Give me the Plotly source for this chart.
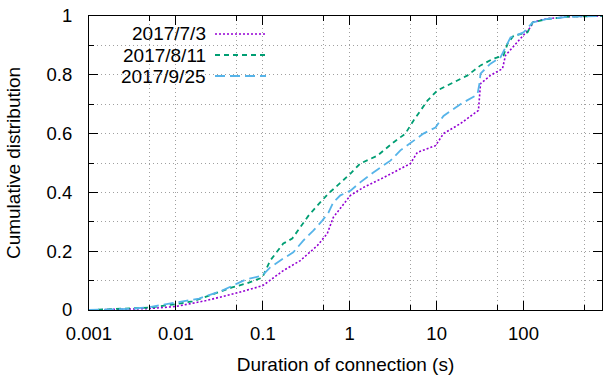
import plotly.graph_objects as go

# Data (duration in s, cumulative fraction)
x_0703 = [0.001, 0.003, 0.005, 0.01, 0.0223, 0.0535, 0.1, 0.172, 0.27, 0.424, 0.552, 0.647, 0.822,
          1.02, 1.44, 2.44, 4.99, 6.0, 9.7, 12.0, 18.8, 30.3, 32, 41.7, 57.3, 62, 92, 120, 130,
          189, 348, 800]
y_0703 = [0.0, 0.003, 0.005, 0.012, 0.032, 0.06, 0.083, 0.134, 0.168, 0.219, 0.26, 0.315, 0.355,
          0.39, 0.417, 0.45, 0.498, 0.536, 0.559, 0.60, 0.634, 0.679, 0.77, 0.798, 0.821, 0.866,
          0.923, 0.961, 0.98, 0.991, 0.998, 1.0]

x_0811 = [0.001, 0.003, 0.005, 0.01, 0.0154, 0.0241, 0.0443, 0.0644, 0.0984, 0.1216, 0.172, 0.218,
          0.27, 0.334, 0.424, 0.567, 0.72, 1.02, 1.32, 2.08, 3.18, 4.37, 5.41, 7.84, 10.2, 15.6,
          22.7, 32, 45.1, 58.9, 65.5, 76.8, 111, 127, 189, 348, 800]
y_0811 = [0.0, 0.004, 0.008, 0.02, 0.029, 0.049, 0.077, 0.09, 0.11, 0.168, 0.226, 0.243,
          0.28, 0.32, 0.355, 0.396, 0.423, 0.464, 0.498, 0.525, 0.57, 0.60, 0.644, 0.712, 0.747, 0.774,
          0.798, 0.832, 0.855, 0.866, 0.906, 0.933, 0.944, 0.978, 0.99, 0.998, 1.0]

x_0925 = [0.001, 0.003, 0.005, 0.01, 0.0185, 0.034, 0.0644, 0.0984, 0.1216, 0.172, 0.224, 0.292,
          0.381, 0.483, 0.567, 0.647, 0.78, 1.02, 1.32, 1.87, 2.94, 3.83, 5.41, 7.05, 9.7, 12.0,
          18.8, 29.5, 31.1, 32, 41.7, 54.3, 62, 70.8, 100, 127, 189, 348, 800]
y_0925 = [0.0, 0.004, 0.01, 0.026, 0.039, 0.066, 0.104, 0.117, 0.145, 0.175, 0.196, 0.236,
          0.27, 0.304, 0.33, 0.366, 0.39, 0.406, 0.434, 0.468, 0.508, 0.543, 0.576, 0.6, 0.621, 0.66,
          0.70, 0.733, 0.77, 0.804, 0.838, 0.859, 0.893, 0.927, 0.944, 0.978, 0.99, 0.998, 1.0]

series_names = ["2017/7/3", "2017/8/11", "2017/9/25"]
x_ticks = [0.001, 0.01, 0.1, 1, 10, 100]
x_tick_labels = ["0.001", "0.01", "0.1", "1", "10", "100"]
x_minor = [0.005, 0.05, 0.5, 5, 50, 500]
y_ticks = [0, 0.2, 0.4, 0.6, 0.8, 1]
y_tick_labels = ["0", "0.2", "0.4", "0.6", "0.8", "1"]
y_minor = [0.1, 0.3, 0.5, 0.7, 0.9]

colors = ["#9400D3", "#009E73", "#56B4E9"]
dashes = ["2px,2px", "5px,4px", "10px,5px"]
widths = [1.6, 1.8, 1.8]
FS = 19
TFS = 18.5
GRID = "#a0a0a0"
GDASH = "1px,3px"

fig = go.Figure()
for xs, ys, c, d, w, n in zip([x_0703, x_0811, x_0925], [y_0703, y_0811, y_0925], colors, dashes,
                              widths, series_names):
    fig.add_trace(go.Scatter(x=xs, y=ys, mode="lines", name=n,
                             line=dict(color=c, width=w, dash=d), showlegend=False))

W, H = 603, 376
L, R, T, B = 89, 1, 16, 66
pw, ph = W - L - R, H - T - B

def px2paper(px, py):
    return (px - L) / pw, (H - B - py) / ph

# custom gnuplot-style legend
legend_rows = [34, 55, 76]
for n, c, d, w, py in zip(series_names, colors, dashes, widths, legend_rows):
    tx, ty = px2paper(206, py)
    fig.add_annotation(x=tx, y=ty, xref="paper", yref="paper", text=n, showarrow=False,
                       xanchor="right", yanchor="middle", xshift=2,
                       font=dict(size=FS, color="black"))
    x0, y0 = px2paper(215, py)
    x1, _ = px2paper(266, py)
    fig.add_shape(type="line", xref="paper", yref="paper", x0=x0, x1=x1, y0=y0, y1=y0,
                  line=dict(color=c, width=w, dash=d))

axis_common = dict(showline=True, linecolor="black", linewidth=1, mirror="ticks",
                   ticks="inside", tickcolor="black", showgrid=True, gridcolor=GRID,
                   griddash=GDASH, gridwidth=1, zeroline=False,
                   tickfont=dict(size=TFS, color="black"))

fig.update_xaxes(type="log", range=[-3, 2.903], tickmode="array", tickvals=x_ticks,
                 ticktext=x_tick_labels, ticklen=9, ticklabelstandoff=7,
                 minor=dict(tickvals=x_minor, ticks="inside", ticklen=5, tickcolor="black",
                            showgrid=True, gridcolor=GRID, griddash=GDASH),
                 title=dict(text="Duration of connection (s)", font=dict(size=FS, color="black"),
                            standoff=14),
                 **axis_common)
fig.update_yaxes(range=[0, 1], tickmode="array", tickvals=y_ticks, ticktext=y_tick_labels, ticklen=9,
                 ticklabelstandoff=12,
                 minor=dict(tickvals=y_minor, ticks="inside", ticklen=5, tickcolor="black",
                            showgrid=True, gridcolor=GRID, griddash=GDASH),
                 title=dict(text="Cumulative distribution", font=dict(size=FS, color="black"),
                            standoff=20),
                 **axis_common)

fig.update_layout(width=W, height=H, margin=dict(l=L, r=R, t=T, b=B, autoexpand=False),
                  plot_bgcolor="white", paper_bgcolor="white",
                  font=dict(family="Liberation Sans, Arial, sans-serif", color="black"))

fig.write_html("out.html", config={"displayModeBar": False},
               post_script="document.body.style.margin='0';")
